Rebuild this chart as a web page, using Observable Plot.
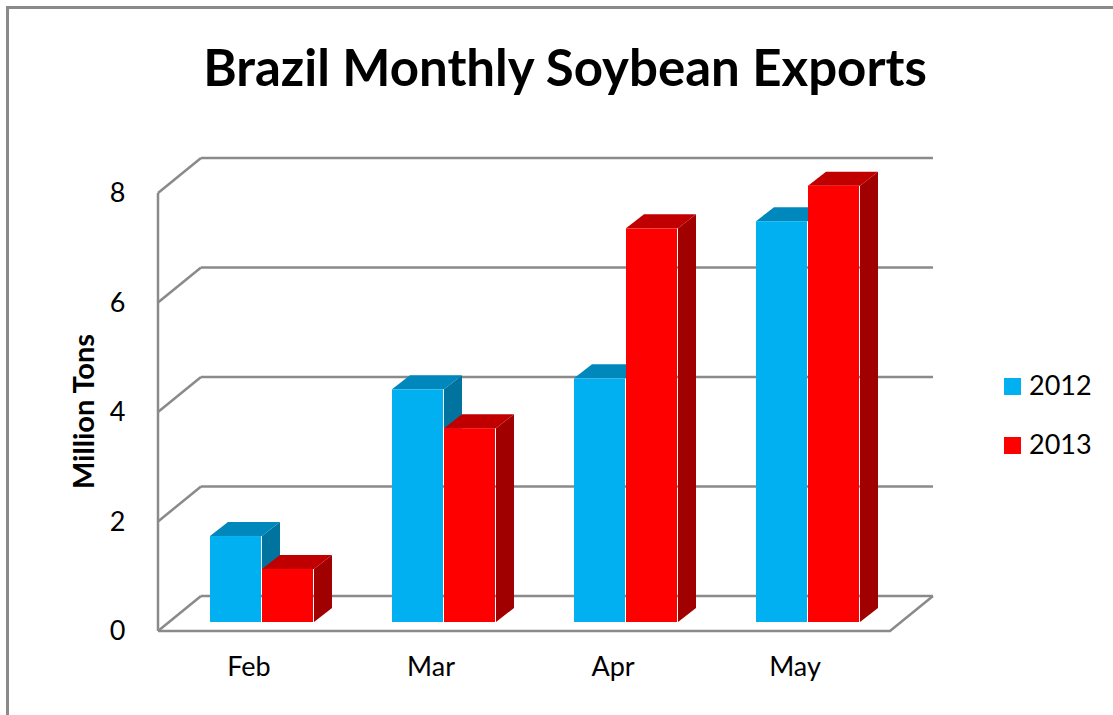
<!DOCTYPE html>
<html>
<head>
<meta charset="utf-8">
<script src="https://cdn.jsdelivr.net/npm/d3@7"></script>
<script src="https://cdn.jsdelivr.net/npm/@observablehq/plot@0.6"></script>
<style>
  html, body { margin: 0; padding: 0; background: #fff; }
  body { font-family: Lato, "Open Sans", sans-serif; color: #000; }
  #wrap { position: relative; width: 1113px; height: 715px; overflow: hidden; background: #fff; }
  #frame { position: absolute; left: 6px; top: 6px; width: 1200px; height: 800px;
           border-top: 3px solid #8a8a8a; border-left: 3px solid #8a8a8a; z-index: 5; pointer-events: none; }
  #title { position: relative; height: 120px; }
  #title span { position: absolute; left: 0; width: 1130px; text-align: center; top: 41px;
                font-size: 51px; font-weight: 700; line-height: 1; white-space: nowrap; }
  #chart svg { display: block; }
  #legend { position: absolute; left: 1004px; top: 378px; z-index: 4; }
  .item { position: relative; height: 59px; }
  .sw { position: absolute; left: 0; top: 0; width: 17px; height: 17px; }
  .lab { position: absolute; left: 25px; top: -7px; font-size: 27px; line-height: 1; white-space: nowrap; }
</style>
</head>
<body>
<div id="wrap">
  <div id="frame"></div>
  <div id="title"><span>Brazil Monthly Soybean Exports</span></div>
  <div id="chart"></div>
  <div id="legend"></div>
</div>
<script>
// ---- data ----
const months = ["Feb", "Mar", "Apr", "May"];
const years = ["2012", "2013"];
const exports2012 = [1.57, 4.25, 4.45, 7.32];
const exports2013 = [0.97, 3.54, 7.19, 7.97];
const yTicks = [0, 2, 4, 6, 8];
const yLabel = "Million Tons";
const frontColors = ["#00B0F0", "#FF0000"];
const topColors = ["#0088BC", "#C00000"];
const sideColors = ["#00739F", "#A00000"];

const seriesValues = [exports2012, exports2013];
const rows = [];
months.forEach((m, j) => years.forEach((yr, s) => rows.push({month: m, year: yr, s, value: seriesValues[s][j]})));

// ---- layout ----
const W = 1113, H = 595, mL = 169, mR = 212, mT = 64, mB = 93;
const padIn = 0.4317, padOut = 0.2159;
const bw = d3.scaleBand(months, [mL, W - mR]).paddingInner(padIn).paddingOuter(padOut).bandwidth();
const FRONT = [-11, 9], BACK = [32, -26], DEPTH = [18, -14];
const GRID = "#8a8a8a";

// walls, gridlines and floor (projected 3D frame)
const walls = (index, {x, y}) => {
  const g = d3.create("svg:g").attr("fill", "none").attr("stroke", GRID).attr("stroke-width", 2.5);
  const [r0, r1] = x.range();
  for (const t of yTicks) {
    const yf = y(t) + FRONT[1], yb = y(t) + BACK[1];
    g.append("line").attr("x1", r0 + FRONT[0]).attr("y1", yf).attr("x2", r0 + BACK[0]).attr("y2", yb);
    g.append("line").attr("x1", r0 + BACK[0]).attr("y1", yb).attr("x2", r1 + BACK[0]).attr("y2", yb);
  }
  const y0 = y(0), yTop = y(yTicks[yTicks.length - 1]);
  g.append("line").attr("x1", r0 + FRONT[0]).attr("y1", yTop + FRONT[1]).attr("x2", r0 + FRONT[0]).attr("y2", y0 + FRONT[1]);
  g.append("polyline").attr("points", [
    [r0 + FRONT[0], y0 + FRONT[1]],
    [r1 + FRONT[0], y0 + FRONT[1]],
    [r1 + BACK[0], y0 + BACK[1]]
  ].map(p => p.join(",")).join(" "));
  return g.node();
};

// top and side faces of each bar
const faces = (index, {x, y}) => {
  const g = d3.create("svg:g");
  for (const d of rows) {
    const xl = x(d.month) + d.s * bw / 2, xr = xl + bw / 2;
    const yt = y(d.value), yb = y(0);
    const side = [[xr, yt], [xr + DEPTH[0], yt + DEPTH[1]], [xr + DEPTH[0], yb + DEPTH[1]], [xr, yb]];
    const top = [[xl, yt], [xr, yt], [xr + DEPTH[0], yt + DEPTH[1]], [xl + DEPTH[0], yt + DEPTH[1]]];
    g.append("polygon").attr("points", side.map(p => p.join(",")).join(" ")).attr("fill", sideColors[d.s]);
    g.append("polygon").attr("points", top.map(p => p.join(",")).join(" ")).attr("fill", topColors[d.s]);
  }
  return g.node();
};

const chart = Plot.plot({
  width: W,
  height: H,
  marginLeft: mL,
  marginRight: mR,
  marginTop: mT,
  marginBottom: mB,
  style: {fontFamily: "Lato, 'Open Sans', sans-serif", background: "#fff", color: "#000", overflow: "visible"},
  x: {type: "band", domain: months, paddingInner: padIn, paddingOuter: padOut, axis: null},
  y: {domain: [0, 8], axis: null},
  marks: [
    walls,
    faces,
    Plot.barY(rows.filter(d => d.s === 0), {x: "month", y: "value", fill: frontColors[0], insetRight: bw / 2}),
    Plot.barY(rows.filter(d => d.s === 1), {x: "month", y: "value", fill: frontColors[1], insetLeft: bw / 2}),
    Plot.text(yTicks, {y: d => d, text: d => String(d), frameAnchor: "left", textAnchor: "end", dx: -44, dy: FRONT[1], fontSize: 27, fill: "#000"}),
    Plot.text(months, {x: d => d, text: d => d, frameAnchor: "bottom", dx: -13, dy: 53, fontSize: 27, fill: "#000"}),
    Plot.text([yLabel], {text: d => d, frameAnchor: "left", textAnchor: "middle", rotate: -90, dx: -85, dy: 8, fontSize: 29, fontWeight: "bold", fill: "#000"})
  ]
});
document.getElementById("chart").appendChild(chart);

// legend
const legend = document.getElementById("legend");
years.forEach((yr, i) => {
  const item = document.createElement("div");
  item.className = "item";
  const sw = document.createElement("div");
  sw.className = "sw";
  sw.style.background = frontColors[i];
  const lab = document.createElement("div");
  lab.className = "lab";
  lab.textContent = yr;
  item.appendChild(sw);
  item.appendChild(lab);
  legend.appendChild(item);
});
</script>
</body>
</html>
